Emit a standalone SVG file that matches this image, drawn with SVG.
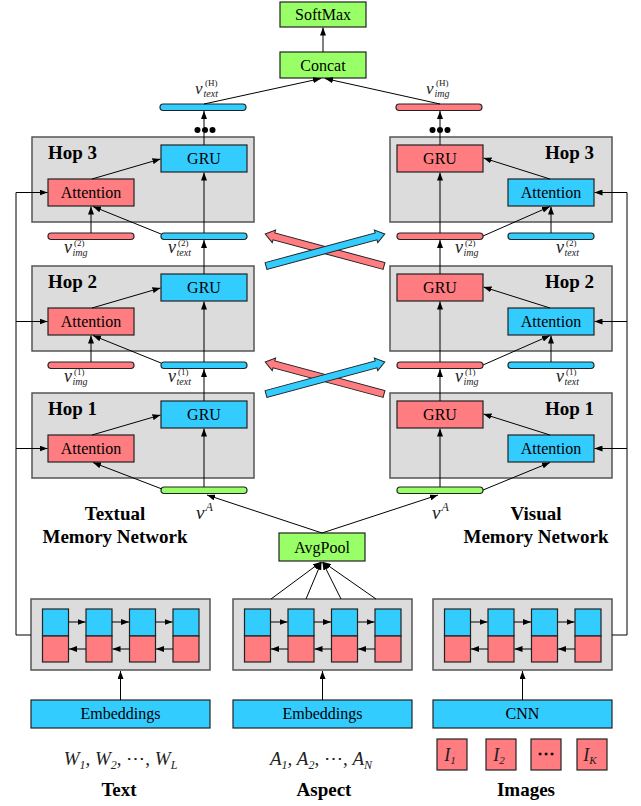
<svg xmlns="http://www.w3.org/2000/svg" width="641" height="806" viewBox="0 0 641 806">
<defs>
<marker id="ah" viewBox="0 0 8 6" markerWidth="8" markerHeight="6" refX="8" refY="3" orient="auto" markerUnits="userSpaceOnUse"><path d="M0,0 L8,3 L0,6 z" fill="#000"/></marker>
<style>
.hop{fill:#DCDCDC;stroke:#555;stroke-width:1.5}
.cy{fill:#33CCFF;stroke:#222;stroke-width:1.2}
.pk{fill:#FF7C80;stroke:#222;stroke-width:1.2}
.gr{fill:#99FF66;stroke:#222;stroke-width:1.2}
.lbl{font-family:"Liberation Serif",serif;font-size:16px;text-anchor:middle;fill:#000}
.hopt{font-family:"Liberation Serif",serif;font-size:19px;font-weight:bold;fill:#000}
.big{font-family:"Liberation Serif",serif;font-size:19px;font-weight:bold;text-anchor:middle;fill:#000}
.ln{stroke:#000;stroke-width:1;fill:none}
.arr{stroke:#000;stroke-width:1;fill:none;marker-end:url(#ah)}
.v{font-family:"Liberation Serif",serif;font-style:italic;font-size:18px;fill:#222}
.sb{font-family:"Liberation Serif",serif;font-style:italic;font-size:10px;fill:#222}
.sp{font-family:"Liberation Serif",serif;font-size:9px;fill:#222}
.it{font-family:"Liberation Serif",serif;font-style:italic;font-size:19px;fill:#222}
.xarr{stroke:#222;stroke-width:1}
</style>
</defs>

<g id="softmax"><rect class="gr" x="280" y="2" width="86" height="25"/><text class="lbl" x="323" y="20">SoftMax</text></g>
<g id="concat"><rect class="gr" x="280" y="52" width="86" height="26"/><text class="lbl" x="323" y="70.5">Concat</text></g>

<g id="v_text_H">
  <rect class="cy" x="160" y="104" width="86" height="6.5" rx="3.2"/>
  <text class="v" x="195" y="94" style="font-size:17px">v</text><text class="sb" x="203.5" y="97">text</text><text class="sp" x="205" y="86">(H)</text>
</g>
<g id="v_img_H">
  <rect class="pk" x="396" y="104" width="86" height="6.5" rx="3.2"/>
  <text class="v" x="426" y="94" style="font-size:17px">v</text><text class="sb" x="434.5" y="97">img</text><text class="sp" x="436" y="86">(H)</text>
</g>
<g id="dots_left"><circle cx="197.5" cy="130" r="3"/><circle cx="205" cy="130" r="3"/><circle cx="212.5" cy="130" r="3"/></g>
<g id="dots_right"><circle cx="432.5" cy="130" r="3"/><circle cx="440" cy="130" r="3"/><circle cx="447.5" cy="130" r="3"/></g>

<!-- Textual hops -->
<g id="hop3_text">
  <rect class="hop" x="32" y="137" width="222" height="85"/>
  <text class="hopt" x="48" y="159">Hop 3</text>
  <rect class="cy" x="161" y="145" width="86" height="27"/><text class="lbl" x="204" y="164">GRU</text>
  <rect class="pk" x="48" y="179" width="86" height="27"/><text class="lbl" x="91" y="198">Attention</text>
</g>
<g id="hop2_text">
  <rect class="hop" x="32" y="266" width="222" height="85"/>
  <text class="hopt" x="48" y="288">Hop 2</text>
  <rect class="cy" x="161" y="274" width="86" height="27"/><text class="lbl" x="204" y="293">GRU</text>
  <rect class="pk" x="48" y="308" width="86" height="27"/><text class="lbl" x="91" y="327">Attention</text>
</g>
<g id="hop1_text">
  <rect class="hop" x="32" y="393" width="222" height="85"/>
  <text class="hopt" x="48" y="415">Hop 1</text>
  <rect class="cy" x="161" y="401" width="86" height="27"/><text class="lbl" x="204" y="420">GRU</text>
  <rect class="pk" x="48" y="435" width="86" height="27"/><text class="lbl" x="91" y="454">Attention</text>
</g>

<!-- Visual hops -->
<g id="hop3_img">
  <rect class="hop" x="390" y="137" width="222" height="85"/>
  <text class="hopt" x="594" y="159" text-anchor="end">Hop 3</text>
  <rect class="pk" x="397" y="145" width="86" height="27"/><text class="lbl" x="440" y="164">GRU</text>
  <rect class="cy" x="508" y="179" width="86" height="27"/><text class="lbl" x="551" y="198">Attention</text>
</g>
<g id="hop2_img">
  <rect class="hop" x="390" y="266" width="222" height="85"/>
  <text class="hopt" x="594" y="288" text-anchor="end">Hop 2</text>
  <rect class="pk" x="397" y="274" width="86" height="27"/><text class="lbl" x="440" y="293">GRU</text>
  <rect class="cy" x="508" y="308" width="86" height="27"/><text class="lbl" x="551" y="327">Attention</text>
</g>
<g id="hop1_img">
  <rect class="hop" x="390" y="393" width="222" height="85"/>
  <text class="hopt" x="594" y="415" text-anchor="end">Hop 1</text>
  <rect class="pk" x="397" y="401" width="86" height="27"/><text class="lbl" x="440" y="420">GRU</text>
  <rect class="cy" x="508" y="435" width="86" height="27"/><text class="lbl" x="551" y="454">Attention</text>
</g>

<!-- memory bars -->
<g id="bars_l2">
  <rect class="pk" x="48" y="233" width="86" height="6.5" rx="3.2"/>
  <text class="v" x="64" y="252.5">v</text><text class="sb" x="72.5" y="255.5">img</text><text class="sp" x="74" y="246">(2)</text>
  <rect class="cy" x="161" y="233" width="86" height="6.5" rx="3.2"/>
  <text class="v" x="168" y="252.5">v</text><text class="sb" x="176.5" y="255.5">text</text><text class="sp" x="178" y="246">(2)</text>
</g>
<g id="bars_r2">
  <rect class="pk" x="397" y="233" width="86" height="6.5" rx="3.2"/>
  <text class="v" x="455" y="252.5">v</text><text class="sb" x="463.5" y="255.5">img</text><text class="sp" x="465" y="246">(2)</text>
  <rect class="cy" x="508" y="233" width="86" height="6.5" rx="3.2"/>
  <text class="v" x="556" y="252.5">v</text><text class="sb" x="564.5" y="255.5">text</text><text class="sp" x="566" y="246">(2)</text>
</g>
<g id="bars_l1">
  <rect class="pk" x="48" y="362" width="86" height="6.5" rx="3.2"/>
  <text class="v" x="64" y="381.5">v</text><text class="sb" x="72.5" y="384.5">img</text><text class="sp" x="74" y="375">(1)</text>
  <rect class="cy" x="161" y="362" width="86" height="6.5" rx="3.2"/>
  <text class="v" x="168" y="381.5">v</text><text class="sb" x="176.5" y="384.5">text</text><text class="sp" x="178" y="375">(1)</text>
</g>
<g id="bars_r1">
  <rect class="pk" x="397" y="362" width="86" height="6.5" rx="3.2"/>
  <text class="v" x="455" y="381.5">v</text><text class="sb" x="463.5" y="384.5">img</text><text class="sp" x="465" y="375">(1)</text>
  <rect class="cy" x="508" y="362" width="86" height="6.5" rx="3.2"/>
  <text class="v" x="556" y="381.5">v</text><text class="sb" x="564.5" y="384.5">text</text><text class="sp" x="566" y="375">(1)</text>
</g>
<g id="vA_left">
  <rect class="gr" x="161" y="487" width="86" height="6.5" rx="3.2"/>
  <text class="v" x="196" y="519" style="font-size:19px">v</text><text class="sb" x="205.5" y="511" style="font-size:12px">A</text>
</g>
<g id="vA_right">
  <rect class="gr" x="397" y="487" width="86" height="6.5" rx="3.2"/>
  <text class="v" x="432" y="519" style="font-size:19px">v</text><text class="sb" x="441.5" y="511" style="font-size:12px">A</text>
</g>

<g id="title_textual"><text class="big" x="115" y="520">Textual</text><text class="big" x="115" y="543">Memory Network</text></g>
<g id="title_visual"><text class="big" x="536" y="520">Visual</text><text class="big" x="536" y="543">Memory Network</text></g>

<g id="avgpool"><rect class="gr" x="279" y="533" width="86" height="28"/><text class="lbl" x="322" y="552.5">AvgPool</text></g>

<!-- BiLSTMs -->
<g id="bilstm_text">
  <rect class="hop" x="31" y="599" width="179" height="71"/>
  <rect class="cy" x="42.5" y="609" width="26" height="27"/><rect class="pk" x="42.5" y="636" width="26" height="26"/>
  <rect class="cy" x="86" y="609" width="26" height="27"/><rect class="pk" x="86" y="636" width="26" height="26"/>
  <rect class="cy" x="129.5" y="609" width="26" height="27"/><rect class="pk" x="129.5" y="636" width="26" height="26"/>
  <rect class="cy" x="173" y="609" width="26" height="27"/><rect class="pk" x="173" y="636" width="26" height="26"/>
  <path class="arr" d="M68.5,622 L85.5,622"/><path class="arr" d="M112,622 L129,622"/><path class="arr" d="M155.5,622 L172.5,622"/>
  <path class="arr" d="M86,649 L69,649"/><path class="arr" d="M129.5,649 L112.5,649"/><path class="arr" d="M173,649 L156,649"/>
</g>
<g id="bilstm_aspect">
  <rect class="hop" x="233" y="599" width="179" height="71"/>
  <rect class="cy" x="244.5" y="609" width="26" height="27"/><rect class="pk" x="244.5" y="636" width="26" height="26"/>
  <rect class="cy" x="288" y="609" width="26" height="27"/><rect class="pk" x="288" y="636" width="26" height="26"/>
  <rect class="cy" x="331.5" y="609" width="26" height="27"/><rect class="pk" x="331.5" y="636" width="26" height="26"/>
  <rect class="cy" x="375" y="609" width="26" height="27"/><rect class="pk" x="375" y="636" width="26" height="26"/>
  <path class="arr" d="M270.5,622 L287.5,622"/><path class="arr" d="M314,622 L331,622"/><path class="arr" d="M357.5,622 L374.5,622"/>
  <path class="arr" d="M288,649 L271,649"/><path class="arr" d="M331.5,649 L314.5,649"/><path class="arr" d="M375,649 L358,649"/>
</g>
<g id="bilstm_image">
  <rect class="hop" x="433" y="599" width="179" height="71"/>
  <rect class="cy" x="444.5" y="609" width="26" height="27"/><rect class="pk" x="444.5" y="636" width="26" height="26"/>
  <rect class="cy" x="488" y="609" width="26" height="27"/><rect class="pk" x="488" y="636" width="26" height="26"/>
  <rect class="cy" x="531.5" y="609" width="26" height="27"/><rect class="pk" x="531.5" y="636" width="26" height="26"/>
  <rect class="cy" x="575" y="609" width="26" height="27"/><rect class="pk" x="575" y="636" width="26" height="26"/>
  <path class="arr" d="M470.5,622 L487.5,622"/><path class="arr" d="M514,622 L531,622"/><path class="arr" d="M557.5,622 L574.5,622"/>
  <path class="arr" d="M488,649 L471,649"/><path class="arr" d="M531.5,649 L514.5,649"/><path class="arr" d="M575,649 L558,649"/>
</g>

<g id="emb_text"><rect class="cy" x="31" y="700" width="179" height="28"/><text class="lbl" x="120.5" y="719">Embeddings</text></g>
<g id="emb_aspect"><rect class="cy" x="233" y="700" width="179" height="28"/><text class="lbl" x="322.5" y="719">Embeddings</text></g>
<g id="cnn"><rect class="cy" x="433" y="700" width="179" height="28"/><text class="lbl" x="522.5" y="719">CNN</text></g>

<g id="words">
  <text class="it" x="120.5" y="765" text-anchor="middle">W<tspan font-size="12" dy="4">1</tspan><tspan dy="-4">, W</tspan><tspan font-size="12" dy="4">2</tspan><tspan dy="-4" font-style="normal">, ⋯, </tspan>W<tspan font-size="12" dy="4">L</tspan></text>
</g>
<g id="aspects">
  <text class="it" x="321" y="765" text-anchor="middle">A<tspan font-size="12" dy="4">1</tspan><tspan dy="-4">, A</tspan><tspan font-size="12" dy="4">2</tspan><tspan dy="-4" font-style="normal">, ⋯, </tspan>A<tspan font-size="12" dy="4">N</tspan></text>
</g>
<g id="img1"><rect class="pk" x="437" y="739" width="30" height="31"/><text class="it" x="450" y="761" text-anchor="middle" style="font-size:18px">I<tspan font-size="11" dy="3">1</tspan></text></g>
<g id="img2"><rect class="pk" x="486" y="739" width="30" height="31"/><text class="it" x="499" y="761" text-anchor="middle" style="font-size:18px">I<tspan font-size="11" dy="3">2</tspan></text></g>
<g id="img_dots"><rect class="pk" x="531" y="739" width="30" height="31"/><text class="lbl" x="546" y="759" style="font-weight:bold;font-size:18px">⋯</text></g>
<g id="imgK"><rect class="pk" x="577" y="739" width="30" height="31"/><text class="it" x="590" y="761" text-anchor="middle" style="font-size:18px">I<tspan font-size="11" dy="3">K</tspan></text></g>

<g id="label_text"><text class="big" x="119" y="796">Text</text></g>
<g id="label_aspect"><text class="big" x="324" y="796">Aspect</text></g>
<g id="label_images"><text class="big" x="526" y="796">Images</text></g>

<g id="connectors">
  <!-- top -->
  <path class="arr" d="M323,52 L323,27.5"/>
  <path class="arr" d="M204,104 L321,78.5"/>
  <path class="arr" d="M440,104 L325,78.5"/>
  <!-- left column -->
  <path class="ln" d="M204,145 L204,133"/>
  <path class="arr" d="M204,127 L204,111"/>
  <path class="arr" d="M204,233 L204,172.5"/>
  <path class="arr" d="M204,274 L204,240"/>
  <path class="arr" d="M204,362 L204,301.5"/>
  <path class="arr" d="M204,401 L204,369"/>
  <path class="arr" d="M204,487 L204,428.5"/>
  <!-- right column -->
  <path class="ln" d="M440,145 L440,133"/>
  <path class="arr" d="M440,127 L440,111"/>
  <path class="arr" d="M440,233 L440,172.5"/>
  <path class="arr" d="M440,274 L440,240"/>
  <path class="arr" d="M440,362 L440,301.5"/>
  <path class="arr" d="M440,401 L440,369"/>
  <path class="arr" d="M440,487 L440,428.5"/>
  <!-- left hops internals -->
  <path class="arr" d="M92,179 L160.5,159"/>
  <path class="arr" d="M92,308 L160.5,288"/>
  <path class="arr" d="M92,435 L160.5,415"/>
  <path class="arr" d="M91,233 L91,206.5"/>
  <path class="arr" d="M161,234 L93,206.5"/>
  <path class="arr" d="M91,362 L91,335.5"/>
  <path class="arr" d="M161,363 L93,335.5"/>
  <path class="arr" d="M162,489 L93,462.5"/>
  <!-- right hops internals -->
  <path class="arr" d="M550,179 L483.5,158"/>
  <path class="arr" d="M550,308 L483.5,287"/>
  <path class="arr" d="M550,435 L483.5,414"/>
  <path class="arr" d="M551,233 L551,206.5"/>
  <path class="arr" d="M483,236 L550,206.5"/>
  <path class="arr" d="M551,362 L551,335.5"/>
  <path class="arr" d="M483,365 L550,335.5"/>
  <path class="arr" d="M483,490 L550,462.5"/>
  <!-- feedback lines -->
  <path class="ln" d="M31,635 L16,635 L16,192.5"/>
  <path class="arr" d="M16,192.5 L47.5,192.5"/>
  <path class="arr" d="M16,321.5 L47.5,321.5"/>
  <path class="arr" d="M16,448.5 L47.5,448.5"/>
  <path class="ln" d="M612,635 L627,635 L627,192.5"/>
  <path class="arr" d="M627,192.5 L594.5,192.5"/>
  <path class="arr" d="M627,321.5 L594.5,321.5"/>
  <path class="arr" d="M627,448.5 L594.5,448.5"/>
  <!-- avgpool -->
  <path class="arr" d="M322,533 L207,495"/>
  <path class="arr" d="M322,533 L438,495"/>
  <path class="arr" d="M271,599 L321,562"/>
  <path class="arr" d="M306,599 L321.5,562"/>
  <path class="arr" d="M341,599 L322.5,562"/>
  <path class="arr" d="M376,599 L323,562"/>
  <!-- embeddings to bilstm -->
  <path class="arr" d="M120.5,700 L120.5,671"/>
  <path class="arr" d="M322.5,700 L322.5,671"/>
  <path class="arr" d="M522.5,700 L522.5,671"/>
  <!-- crossing arrows -->
  <polygon class="xarr" fill="#FF7C80" transform="translate(384,266) rotate(-164.95)" points="0,-3.5 114,-3.5 114,-6.5 123,0 114,6.5 114,3.5 0,3.5"/>
  <polygon class="xarr" fill="#33CCFF" transform="translate(266,266) rotate(-15.05)" points="0,-3.5 114,-3.5 114,-6.5 123,0 114,6.5 114,3.5 0,3.5"/>
  <polygon class="xarr" fill="#FF7C80" transform="translate(384,394) rotate(-164.95)" points="0,-3.5 114,-3.5 114,-6.5 123,0 114,6.5 114,3.5 0,3.5"/>
  <polygon class="xarr" fill="#33CCFF" transform="translate(266,394) rotate(-15.05)" points="0,-3.5 114,-3.5 114,-6.5 123,0 114,6.5 114,3.5 0,3.5"/>
</g>
</svg>
